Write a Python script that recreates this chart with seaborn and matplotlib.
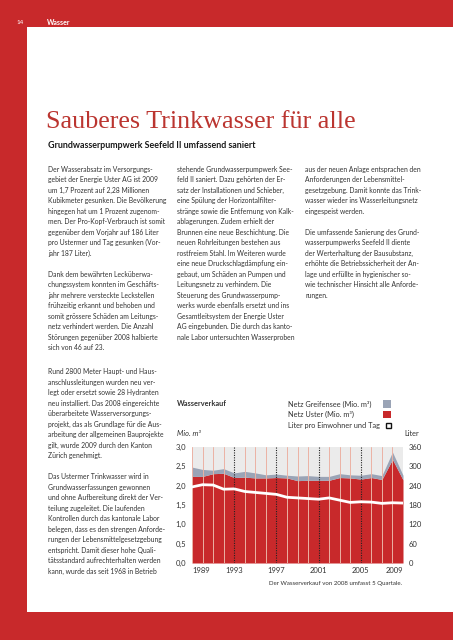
import seaborn as sns
import matplotlib.pyplot as plt
from matplotlib.patches import Rectangle

# Wasserverkauf data
years = list(range(1989, 2010))
uster = [2.24, 2.24, 2.31, 2.32, 2.21, 2.22, 2.20, 2.20, 2.21, 2.20, 2.13,
         2.14, 2.14, 2.14, 2.21, 2.20, 2.17, 2.21, 2.16, 2.68, 2.15]
greifensee = [0.24, 0.18, 0.09, 0.12, 0.12, 0.15, 0.13, 0.08, 0.09, 0.07, 0.12,
              0.12, 0.10, 0.10, 0.10, 0.08, 0.10, 0.10, 0.10, 0.19, 0.12]
liter = [236, 243, 242, 229, 230, 222, 219, 216, 213, 204, 202,
         200, 198, 202, 195, 188, 190, 189, 185, 187, 186]
year_ticks = [1989, 1993, 1997, 2001, 2005, 2009]
dotted_years = [1993, 1997, 2001, 2005]
left_ticks = [0.0, 0.5, 1.0, 1.5, 2.0, 2.5, 3.0]
right_ticks = [0, 60, 120, 180, 240, 300, 360]
legend_labels = ['Netz Greifensee (Mio. m³)', 'Netz Uster (Mio. m³)',
                 'Liter pro Einwohner und Tag']

title = 'Sauberes Trinkwasser für alle'
subtitle = 'Grundwasserpumpwerk Seefeld II umfassend saniert'

col1_top = [
    'Der Wasserabsatz im Versorgungs-',
    'gebiet der Energie Uster AG ist 2009',
    'um 1,7 Prozent auf 2,28 Millionen',
    'Kubikmeter gesunken. Die Bevölkerung',
    'hingegen hat um 1 Prozent zugenom-',
    'men. Der Pro-Kopf-Verbrauch ist somit',
    'gegenüber dem Vorjahr auf 186 Liter',
    'pro Ustermer und Tag gesunken (Vor-',
    'jahr 187 Liter).',
    '',
    'Dank dem bewährten Lecküberwa-',
    'chungssystem konnten im Geschäfts-',
    'jahr mehrere versteckte Leckstellen',
    'frühzeitig erkannt und behoben und',
    'somit grössere Schäden am Leitungs-',
    'netz verhindert werden. Die Anzahl',
    'Störungen gegenüber 2008 halbierte',
    'sich von 46 auf 23.',
]
col2_top = [
    'stehende Grundwasserpumpwerk See-',
    'feld II saniert. Dazu gehörten der Er-',
    'satz der Installationen und Schieber,',
    'eine Spülung der Horizontalfilter-',
    'stränge sowie die Entfernung von Kalk-',
    'ablagerungen. Zudem erhielt der',
    'Brunnen eine neue Beschichtung. Die',
    'neuen Rohrleitungen bestehen aus',
    'rostfreiem Stahl. Im Weiteren wurde',
    'eine neue Druckschlagdämpfung ein-',
    'gebaut, um Schäden an Pumpen und',
    'Leitungsnetz zu verhindern. Die',
    'Steuerung des Grundwasserpump-',
    'werks wurde ebenfalls ersetzt und ins',
    'Gesamtleitsystem der Energie Uster',
    'AG eingebunden. Die durch das kanto-',
    'nale Labor untersuchten Wasserproben',
]
col3_top = [
    'aus der neuen Anlage entsprachen den',
    'Anforderungen der Lebensmittel-',
    'gesetzgebung. Damit konnte das Trink-',
    'wasser wieder ins Wasserleitungsnetz',
    'eingespeist werden.',
    '',
    'Die umfassende Sanierung des Grund-',
    'wasserpumpwerks Seefeld II diente',
    'der Werterhaltung der Bausubstanz,',
    'erhöhte die Betriebssicherheit der An-',
    'lage und erfüllte in hygienischer so-',
    'wie technischer Hinsicht alle Anforde-',
    'rungen.',
]
col1_bottom = [
    'Rund 2800 Meter Haupt- und Haus-',
    'anschlussleitungen wurden neu ver-',
    'legt oder ersetzt sowie 28 Hydranten',
    'neu installiert. Das 2008 eingereichte',
    'überarbeitete Wasserversorgungs-',
    'projekt, das als Grundlage für die Aus-',
    'arbeitung der allgemeinen Bauprojekte',
    'gilt, wurde 2009 durch den Kanton',
    'Zürich genehmigt.',
    '',
    'Das Ustermer Trinkwasser wird in',
    'Grundwasserfassungen gewonnen',
    'und ohne Aufbereitung direkt der Ver-',
    'teilung zugeleitet. Die laufenden',
    'Kontrollen durch das kantonale Labor',
    'belegen, dass es den strengen Anforde-',
    'rungen der Lebensmittelgesetzgebung',
    'entspricht. Damit dieser hohe Quali-',
    'tätsstandard aufrechterhalten werden',
    'kann, wurde das seit 1968 in Betrieb',
]

RED = '#c8292b'
GREY = '#9aa4b6'
BG = '#ebebeb'
TEXT = '#333333'
W, H = 453, 640

sns.set_style('white')
plt.rcParams['font.family'] = ['Lato', 'DejaVu Sans']


def px(x, y):
    return x / W, 1 - y / H


def column(fig, x, y0, lines, step=10.5, size=4.85):
    for i, line in enumerate(lines):
        if line:
            fig.text(*px(x, y0 + i * step), line, fontsize=size, color=TEXT, va='center')


def frect(fig, x0, y0, x1, y1, **kw):
    fig.patches.append(Rectangle(px(x0, y1), (x1 - x0) / W, (y1 - y0) / H,
                                 transform=fig.transFigure, **kw))


fig = plt.figure(figsize=(4.53, 6.4), dpi=100)

# page frame
frect(fig, 0, 0, W, 27, color=RED, lw=0)
frect(fig, 0, 0, 27, H, color=RED, lw=0)
frect(fig, 0, 612, W, H, color=RED, lw=0)
frect(fig, 27.5, 0, 28.3, 25, color='white', lw=0)
fig.text(*px(20, 22.5), '14', fontsize=4.5, color='white', ha='center', va='center')
fig.text(*px(47, 22.5), 'Wasser', fontsize=5, color='white', fontweight='bold', va='center')

fig.text(*px(46, 128), title, fontsize=18.8, color='#bb3530',
         family=['Liberation Serif'], va='baseline')
fig.text(*px(48, 145), subtitle, fontsize=6.4, color='#1a1a1a', fontweight='bold', va='center')

column(fig, 48, 169.3, col1_top)
column(fig, 177, 169.3, col2_top)
column(fig, 305, 169.3, col3_top)
column(fig, 48, 371.7, col1_bottom)

# chart
ax = fig.add_axes([192 / W, 1 - 563 / H, 211 / W, 116 / H])
ax.set_facecolor(BG)
total = [u + g for u, g in zip(uster, greifensee)]
ax.fill_between(years, 0, uster, color=RED, lw=0, zorder=2)
ax.fill_between(years, uster, total, color=GREY, lw=0, zorder=2)
for yr in years:
    if yr in dotted_years:
        ax.axvline(yr, color='#222222', lw=0.8, ls=(0, (1, 1.2)), zorder=4)
    else:
        ax.axvline(yr, color='#ebb2a4', lw=0.7, zorder=3)
ax.set_xlim(1989, 2009)
ax.set_ylim(0, 3.0)
ax.set_yticks(left_ticks)
ax.set_yticklabels([f'{v:.1f}'.replace('.', ',') for v in left_ticks])
ax.set_xticks(year_ticks)
ax.set_xticklabels([str(y) for y in year_ticks])
xl = ax.get_xticklabels()
xl[0].set_ha('left')
xl[-1].set_ha('right')
ax.tick_params(length=0, labelsize=5.5, labelcolor=TEXT, pad=4)
ax.tick_params(axis='x', pad=3)
sns.despine(ax=ax, left=True, bottom=True)

ax2 = ax.twinx()
sns.lineplot(x=years, y=liter, ax=ax2, color='white', lw=2.0, zorder=5)
ax2.set_ylim(0, 360)
ax2.set_yticks(right_ticks)
ax2.set_yticklabels([str(v) for v in right_ticks])
ax2.set_ylabel('')
ax2.tick_params(length=0, labelsize=5.5, labelcolor=TEXT, pad=4)
for s in ax2.spines.values():
    s.set_visible(False)

fig.text(*px(177, 403), 'Wasserverkauf', fontsize=5.3, color=TEXT, fontweight='bold', va='center')
fig.text(*px(177, 434), 'Mio. m³', fontsize=5.3, color=TEXT, style='italic', va='center')
fig.text(*px(404, 434), 'Liter', fontsize=5.3, color=TEXT, va='center')

# legend
for label, yy in zip(legend_labels, [404, 414, 425.5]):
    fig.text(*px(288, yy), label, fontsize=5.3, color=TEXT, va='center')
frect(fig, 383, 400, 391, 407.5, color=GREY, lw=0)
frect(fig, 383, 410.5, 391, 418, color=RED, lw=0)
frect(fig, 385.5, 423, 391, 427.5, facecolor='white', edgecolor='#111111', lw=1.0)

fig.text(*px(402, 584), 'Der Wasserverkauf von 2008 umfasst 5 Quartale.',
         fontsize=4.4, color=TEXT, ha='right', va='center')

fig.savefig('out.png', dpi=100)
